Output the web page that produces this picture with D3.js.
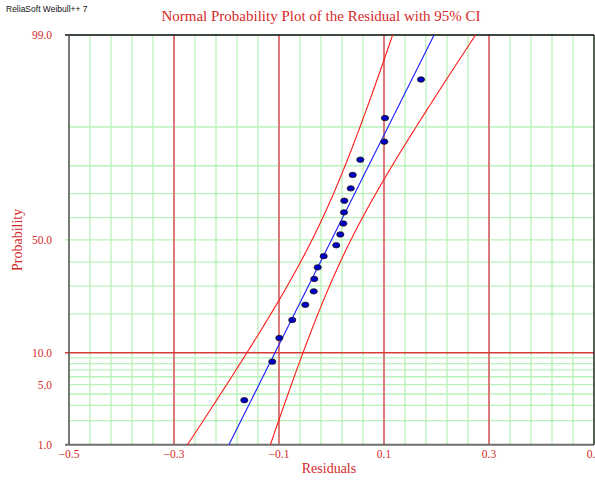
<!DOCTYPE html>
<html>
<head>
<meta charset="utf-8">
<script src="https://cdn.jsdelivr.net/npm/d3@7"></script>
<style>
  body { margin: 0; background: #fff; }
  svg { display: block; }
</style>
</head>
<body>
<div id="chart"></div>
<script>
// Normal probability plot of residuals
const residuals = [-0.1661, -0.1128, -0.0994, -0.0747, -0.0499, -0.0339, -0.0328, -0.0263, -0.0149,
  0.0091, 0.0168, 0.0225, 0.0238, 0.0244, 0.0366, 0.0404, 0.0549, 0.1006, 0.1019, 0.1705];

// fitted normal line and its 95% bounds
const fitMu = 0.0;
const fitSigma = 0.084;
const sdMu = 0.0189;
const sdSigma = 0.0153;
const kConf = 1.96;

const xTicks = [-0.5, -0.3, -0.1, 0.1, 0.3, 0.5];
const xMajor = [-0.3, -0.1, 0.1, 0.3];
const yLabels = [1, 5, 10, 50, 99];
const yGrid = [1, 2, 3, 4, 5, 6, 7, 8, 9, 10, 20, 30, 40, 50, 60, 70, 80, 90, 99];

const width = 595, height = 481;
const margin = { top: 35, right: 1, bottom: 36.3, left: 69 };
const serif = '"Liberation Serif", "Times New Roman", serif';
const red = '#d42a2a';

// inverse standard normal cdf (Acklam)
function probit(p) {
  const a = [-3.969683028665376e+01, 2.209460984245205e+02, -2.759285104469687e+02, 1.383577518672690e+02, -3.066479806614716e+01, 2.506628277459239e+00];
  const b = [-5.447609879822406e+01, 1.615858368580409e+02, -1.556989798598866e+02, 6.680131188771972e+01, -1.328068155288572e+01];
  const c = [-7.784894002430293e-03, -3.223964580411365e-01, -2.400758277161838e+00, -2.549732539343734e+00, 4.374664141464968e+00, 2.938163982698783e+00];
  const d = [7.784695709041462e-03, 3.224671290700398e-01, 2.445134137142996e+00, 3.754408661907416e+00];
  const pl = 0.02425;
  let q, r;
  if (p < pl) {
    q = Math.sqrt(-2 * Math.log(p));
    return (((((c[0]*q+c[1])*q+c[2])*q+c[3])*q+c[4])*q+c[5]) / ((((d[0]*q+d[1])*q+d[2])*q+d[3])*q+1);
  } else if (p <= 1 - pl) {
    q = p - 0.5; r = q * q;
    return (((((a[0]*r+a[1])*r+a[2])*r+a[3])*r+a[4])*r+a[5])*q / (((((b[0]*r+b[1])*r+b[2])*r+b[3])*r+b[4])*r+1);
  }
  q = Math.sqrt(-2 * Math.log(1 - p));
  return -(((((c[0]*q+c[1])*q+c[2])*q+c[3])*q+c[4])*q+c[5]) / ((((d[0]*q+d[1])*q+d[2])*q+d[3])*q+1);
}

const svg = d3.select('#chart').append('svg')
  .attr('width', width).attr('height', height);

const x = d3.scaleLinear().domain([-0.5, 0.5]).range([margin.left, width - margin.right]);
const y = d3.scaleLinear().domain([probit(0.01), probit(0.99)]).range([height - margin.bottom, margin.top]);
const yp = p => y(probit(p / 100));

const x0 = margin.left, x1 = width - margin.right;
const y0 = margin.top, y1 = height - margin.bottom;

// minor green grid
const xMinor = d3.range(0, 26).map(i => -0.5 + i * 0.04);
svg.append('g').selectAll('line').data(xMinor.filter(v => !xMajor.some(m => Math.abs(m - v) < 1e-9))).join('line')
  .attr('x1', d => x(d)).attr('x2', d => x(d)).attr('y1', y0).attr('y2', y1)
  .attr('stroke', '#b8f2b8').attr('stroke-width', 1.3);

svg.append('g').selectAll('line').data(yGrid.filter(v => v !== 10)).join('line')
  .attr('x1', x0).attr('x2', x1).attr('y1', d => yp(d)).attr('y2', d => yp(d))
  .attr('stroke', '#b8f2b8').attr('stroke-width', 1.3);

// major red grid
svg.append('g').selectAll('line').data(xMajor).join('line')
  .attr('x1', d => x(d)).attr('x2', d => x(d)).attr('y1', y0).attr('y2', y1)
  .attr('stroke', '#dc7a7a').attr('stroke-width', 2);

svg.append('line')
  .attr('x1', x0 - 4).attr('x2', x1).attr('y1', yp(10)).attr('y2', yp(10))
  .attr('stroke', '#d83a3a').attr('stroke-width', 1.6);

// label ticks on left
svg.append('g').selectAll('line').data([50]).join('line')
  .attr('x1', x0 - 4).attr('x2', x0).attr('y1', d => yp(d)).attr('y2', d => yp(d))
  .attr('stroke', '#b8f2b8').attr('stroke-width', 1.3);

// frame
svg.append('line').attr('x1', x0 - 4).attr('x2', x1).attr('y1', y0).attr('y2', y0)
  .attr('stroke', '#111').attr('stroke-width', 1.3);
svg.append('line').attr('x1', x0 - 4).attr('x2', x1).attr('y1', y1).attr('y2', y1)
  .attr('stroke', '#707070').attr('stroke-width', 2);
svg.append('line').attr('x1', x0).attr('x2', x0).attr('y1', y0).attr('y2', y1)
  .attr('stroke', '#555').attr('stroke-width', 1.5);
svg.append('line').attr('x1', x1).attr('x2', x1).attr('y1', y0).attr('y2', y1)
  .attr('stroke', '#111').attr('stroke-width', 1.3);

// fitted line and bounds
const clip = svg.append('clipPath').attr('id', 'plotclip').append('rect')
  .attr('x', x0).attr('y', y0).attr('width', x1 - x0).attr('height', y1 - y0);

const probs = d3.range(0.5, 99.6, 0.5);
const zOf = p => probit(p / 100);
const half = z => kConf * Math.sqrt(sdMu * sdMu + z * z * sdSigma * sdSigma);

const line = d3.line().x(d => x(d[0])).y(d => yp(d[1]));
const curves = [
  { pts: probs.map(p => [fitMu + zOf(p) * fitSigma, p]), color: '#1a1aff' },
  { pts: probs.map(p => [fitMu + zOf(p) * fitSigma - half(zOf(p)), p]), color: '#ff1a1a' },
  { pts: probs.map(p => [fitMu + zOf(p) * fitSigma + half(zOf(p)), p]), color: '#ff1a1a' }
];
svg.append('g').attr('clip-path', 'url(#plotclip)')
  .selectAll('path').data(curves).join('path')
  .attr('d', d => line(d.pts))
  .attr('fill', 'none').attr('stroke', d => d.color).attr('stroke-width', 1.1);

// points at median ranks
const n = residuals.length;
svg.append('g').selectAll('ellipse').data(residuals).join('ellipse')
  .attr('cx', d => x(d))
  .attr('cy', (d, i) => yp((i + 1 - 0.3) / (n + 0.4) * 100))
  .attr('rx', 3.6).attr('ry', 2.7)
  .attr('fill', '#0000c8').attr('stroke', '#111').attr('stroke-width', 0.8);

// axis labels
svg.append('g').selectAll('text').data(xTicks).join('text')
  .attr('x', d => x(d)).attr('y', y1 + 13)
  .attr('text-anchor', 'middle')
  .attr('font-family', serif).attr('font-size', 11.5).attr('fill', red)
  .text(d => d3.format('.1f')(d));

svg.append('g').selectAll('text').data(yLabels).join('text')
  .attr('x', x0 - 17).attr('y', d => yp(d) + 4)
  .attr('text-anchor', 'end')
  .attr('font-family', serif).attr('font-size', 11.5).attr('fill', red)
  .text(d => d3.format('.1f')(d));

svg.append('text')
  .attr('x', 329).attr('y', 473)
  .attr('text-anchor', 'middle')
  .attr('font-family', serif).attr('font-size', 14).attr('fill', red)
  .text('Residuals');

svg.append('text')
  .attr('transform', `translate(22, ${(y0 + y1) / 2}) rotate(-90)`)
  .attr('text-anchor', 'middle')
  .attr('font-family', serif).attr('font-size', 14).attr('fill', red)
  .text('Probability');

svg.append('text')
  .attr('x', 321).attr('y', 21)
  .attr('text-anchor', 'middle')
  .attr('font-family', serif).attr('font-size', 15).attr('fill', red)
  .text('Normal Probability Plot of the Residual with 95% CI');

svg.append('text')
  .attr('x', 6).attr('y', 12)
  .attr('font-family', '"Liberation Sans", Arial, sans-serif').attr('font-size', 8.5).attr('fill', '#111')
  .text('ReliaSoft Weibull++ 7');
</script>
</body>
</html>
